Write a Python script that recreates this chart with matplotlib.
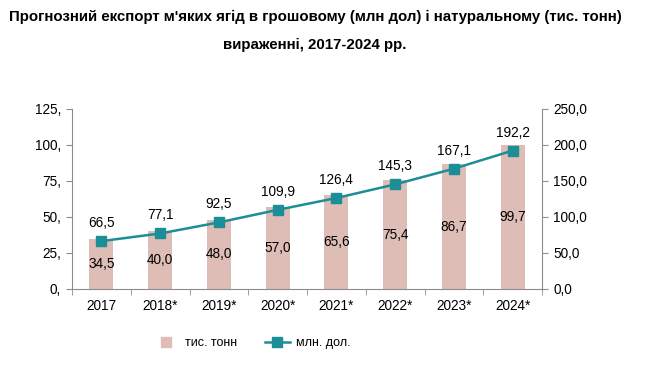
import matplotlib.pyplot as plt
from matplotlib.lines import Line2D

plt.rcParams["font.family"] = ["Liberation Sans", "DejaVu Sans"]

years = ["2017", "2018*", "2019*", "2020*", "2021*", "2022*", "2023*", "2024*"]
tonnes = [34.5, 40.0, 48.0, 57.0, 65.6, 75.4, 86.7, 99.7]
dollars = [66.5, 77.1, 92.5, 109.9, 126.4, 145.3, 167.1, 192.2]

left_ticks = [0, 25, 50, 75, 100, 125]
right_ticks = [0, 50, 100, 150, 200, 250]

BAR_COLOR = "#DDBDB5"
LINE_COLOR = "#1B8E97"
AXIS_COLOR = "#8C8C8C"


def fmt(v):
    return f"{v:.1f}".replace(".", ",")


fig = plt.figure(figsize=(6.7, 3.68), dpi=100)
ax = fig.add_axes([72 / 670, 1 - 289 / 368, 470 / 670, 180 / 368])
ax2 = ax.twinx()

x = list(range(len(years)))
ax.bar(x, tonnes, width=0.41, color=BAR_COLOR, zorder=1)
for xi, v in zip(x, tonnes):
    ax.text(xi, v / 2, fmt(v), ha="center", va="center", fontsize=9.8)

ax2.plot(x, dollars, color=LINE_COLOR, lw=1.8, marker="s", ms=6.5,
         markerfacecolor=LINE_COLOR, markeredgecolor=LINE_COLOR, zorder=3)
for xi, v in zip(x, dollars):
    ax2.annotate(fmt(v), (xi, v), xytext=(0, 8), textcoords="offset points",
                 ha="center", va="bottom", fontsize=9.8)

ax.set_xlim(-0.5, len(years) - 0.5)
ax.set_ylim(0, 125)
ax2.set_ylim(0, 250)

ax.set_yticks(left_ticks)
ax.set_yticklabels([f"{t}," for t in left_ticks])
ax2.set_yticks(right_ticks)
ax2.set_yticklabels([fmt(t) for t in right_ticks])

ax.set_xticks(x)
ax.set_xticklabels(years)
ax.set_xticks([i - 0.5 for i in range(len(years) + 1)], minor=True)
ax.tick_params(axis="x", which="major", length=0, pad=7, labelsize=9.8)
ax.tick_params(axis="x", which="minor", length=4, color=AXIS_COLOR)
ax.tick_params(axis="y", length=4, color=AXIS_COLOR, labelsize=9.8, pad=4)
ax2.tick_params(axis="y", length=4, color=AXIS_COLOR, labelsize=9.8, pad=4)

for a in (ax, ax2):
    a.spines["top"].set_visible(False)
    for s in ("left", "right", "bottom"):
        a.spines[s].set_color(AXIS_COLOR)
ax.spines["right"].set_visible(False)
ax2.spines["left"].set_visible(False)
ax2.spines["bottom"].set_visible(False)

fig.text(315 / 670, 1 - 17 / 368,
         "Прогнозний експорт м'яких ягід в грошовому (млн дол) і натуральному (тис. тонн)",
         ha="center", va="center", fontsize=10.8, fontweight="bold")
fig.text(315 / 670, 1 - 45 / 368, "вираженні, 2017-2024 рр.",
         ha="center", va="center", fontsize=10.8, fontweight="bold")

handles = [
    Line2D([0], [0], color=BAR_COLOR, lw=0, marker="s", ms=7),
    Line2D([0], [0], color=LINE_COLOR, lw=1.8, marker="s", ms=6.5),
]
fig.legend(handles, ["тис. тонн", "млн. дол."], loc="center",
           bbox_to_anchor=(252 / 670, 1 - 343 / 368), ncol=2, frameon=False,
           fontsize=9, handlelength=2.0, columnspacing=2.2,
           handletextpad=0.5)

fig.savefig("out.png", dpi=100)
